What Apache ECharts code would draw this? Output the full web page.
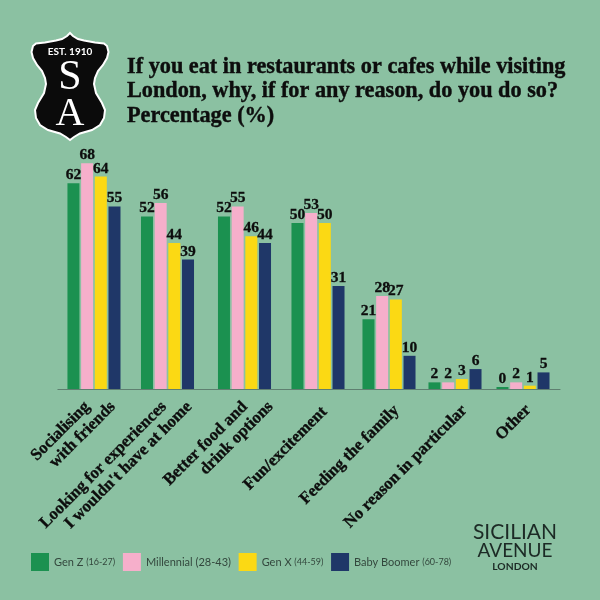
<!DOCTYPE html>
<html>
<head>
<meta charset="utf-8">
<style>html,body{margin:0;padding:0;background:#8bc1a2}#main{width:600px;height:600px}</style>
<script src="https://cdn.jsdelivr.net/npm/echarts@6/dist/echarts.min.js"></script>
</head>
<body>
<div id="main"></div>
<script>
// 数据
var categories = ['Socialising\nwith friends', 'Looking for experiences\nI wouldn\'t have at home', 'Better food and\ndrink options', 'Fun/excitement', 'Feeding the family', 'No reason in particular', 'Other'];
var genZ = [62, 52, 52, 50, 21, 2, 0];
var millennial = [68, 56, 55, 53, 28, 2, 2];
var genX = [64, 44, 46, 50, 27, 3, 1];
var babyBoomer = [55, 39, 44, 31, 10, 6, 5];
var seriesNames = ['Gen Z', 'Millennial', 'Gen X', 'Baby Boomer'];
var seriesAges = ['(16-27)', '(28-43)', '(44-59)', '(60-78)'];

var myColor = ['#1b9150', '#f6afcb', '#fbd914', '#1f3768'];
var values = [genZ, millennial, genX, babyBoomer];
var serif = '"Liberation Serif", serif';
var ink = '#0d0d0d';

// 每组柱子的中心和宽度（原图间距不均匀）
var groupCentres = [92.5, 167.5, 244.5, 318, 389, 455, 523];
var groupHalf = [37.5, 38.5, 38.5, 37, 36, 34, 37];
// 斜标签相对组中心的水平偏移、到轴的距离
var labelDx = [12.5, 15.5, 19.6, 6.5, 7.5, 9.5, 5.5];
var labelDy = [9, 9, 9, 20.5, 19, 19, 18.5];

// 标签文字样式，字重靠描边加粗
var labelFont = { color: ink, fontFamily: serif, fontWeight: 'bold', fontSize: 16.7, lineHeight: 18, textBorderColor: ink, textBorderWidth: 0.35 };

var grids = [], xAxes = [], yAxes = [], series = [];
categories.forEach(function (cat, i) {
	grids.push({ left: groupCentres[i] - groupHalf[i], width: groupHalf[i] * 2, bottom: 211, height: 239 });
	xAxes.push({
		type: 'category',
		gridIndex: i,
		data: [cat],
		axisTick: { show: false },
		axisLine: { lineStyle: { color: '#5f7f70', width: 1.2 } },
		axisLabel: Object.assign({}, labelFont, {
			interval: 0,
			rotate: 45,
			margin: labelDy[i] - labelDx[i],
			padding: [labelDx[i] * 2.83, 0, 0, 0],
			formatter: function (value) {
				var lines = value.split('\n');
				return lines.length > 1 ? '{first|' + lines[0] + '}\n{second|' + lines[1] + '}' : value;
			},
			rich: {
				first: Object.assign({}, labelFont, { padding: [0, 18, 0, 0] }),
				second: labelFont
			}
		})
	});
	yAxes.push({ type: 'value', gridIndex: i, min: 0, max: 72, show: false });
	seriesNames.forEach(function (name, s) {
		series.push({
			name: name,
			type: 'bar',
			xAxisIndex: i,
			yAxisIndex: i,
			data: [values[s][i]],
			barWidth: 12,
			barGap: '14%',
			barMinHeight: 2,
			itemStyle: { color: myColor[s] },
			label: {
				show: true,
				position: 'top',
				distance: 0,
				color: ink,
				fontFamily: serif,
				fontWeight: 'bold',
				fontSize: 15.5,
				textBorderColor: ink,
				textBorderWidth: 0.3
			}
		});
	});
});

// 盾牌轮廓：右半边，左半边镜像
var shieldHalf = [[0, 33], [3, 36], [8, 39], [14, 40.5], [25, 42.5], [34, 43.5], [37, 46], [38.5, 52], [37, 58], [33, 65], [28, 71], [25, 78], [24, 84], [26, 93], [32, 103], [35, 110], [34, 118], [30, 125], [22, 130], [10, 133.5], [4, 137], [0, 140]];
var shieldPoints = shieldHalf.map(function (p) { return [70 + p[0], p[1]]; })
	.concat(shieldHalf.slice(1, -1).reverse().map(function (p) { return [70 - p[0], p[1]]; }));

var myChart = echarts.init(document.querySelector('#main'));
var option = {
	backgroundColor: '#8bc1a2',
	animation: false,
	title: {
		text: 'If you eat in restaurants or cafes while visiting\nLondon, why, if for any reason, do you do so?\nPercentage (%)',
		left: 122,
		top: 49.5,
		textStyle: { color: ink, fontFamily: serif, fontWeight: 'bold', fontSize: 22.25, lineHeight: 24.5, textBorderColor: ink, textBorderWidth: 0.4 }
	},
	legend: {
		left: 26,
		top: 548,
		itemWidth: 18,
		itemHeight: 18,
		itemGap: 7.7,
		icon: 'rect',
		data: seriesNames,
		formatter: function (name) {
			var style = name === 'Millennial' ? 'ageBig' : 'age';
			return name + ' {' + style + '|' + seriesAges[seriesNames.indexOf(name)] + '}';
		},
		textStyle: {
			color: '#33473d',
			fontFamily: 'Lato',
			fontSize: 11,
			rich: {
				age: { color: '#33473d', fontFamily: 'Lato', fontSize: 9 },
				ageBig: { color: '#33473d', fontFamily: 'Lato', fontSize: 11 }
			}
		}
	},
	grid: grids,
	xAxis: xAxes,
	yAxis: yAxes,
	series: series,
	graphic: [
		// 盾牌徽标
		{ type: 'polygon', shape: { points: shieldPoints }, style: { fill: '#0b0b0b', stroke: '#ffffff', lineWidth: 2 } },
		{ type: 'text', x: 70, y: 52, style: { text: 'EST. 1910', fill: '#fff', font: 'bold 10px Lato', textAlign: 'center', textVerticalAlign: 'middle' } },
		{ type: 'text', x: 70, y: 78, style: { text: 'S', fill: '#fff', font: '42px "Liberation Serif"', textAlign: 'center', textVerticalAlign: 'middle' } },
		{ type: 'text', x: 70, y: 114.5, style: { text: 'A', fill: '#fff', font: '40px "Liberation Serif"', textAlign: 'center', textVerticalAlign: 'middle' } },
		// 品牌文字
		{ type: 'text', x: 515, y: 532, style: { text: 'SICILIAN', fill: '#1c2a25', font: '21px Lato', textAlign: 'center', textVerticalAlign: 'middle' } },
		{ type: 'text', x: 515, y: 550.5, style: { text: 'AVENUE', fill: '#1c2a25', font: '19px Lato', textAlign: 'center', textVerticalAlign: 'middle' } },
		{ type: 'text', x: 515, y: 567, style: { text: 'LONDON', fill: '#1c2a25', font: 'bold 10.3px Lato', textAlign: 'center', textVerticalAlign: 'middle' } }
	]
};
myChart.setOption(option);
</script>
</body>
</html>
